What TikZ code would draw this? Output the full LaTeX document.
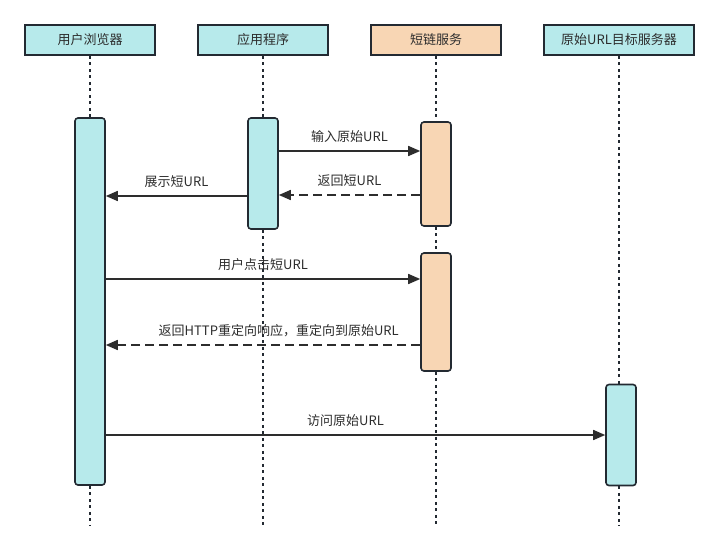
\documentclass[tikz,border=0pt]{standalone}
\usepackage{fontspec}
\setmainfont{Noto Sans CJK SC}
\usepackage{xcolor}
\usepackage{tikz}
\usetikzlibrary{arrows.meta,positioning,calc}
\definecolor{cyanfill}{RGB}{183,234,235}
\definecolor{peachfill}{RGB}{248,214,180}
\definecolor{edge}{RGB}{35,42,50}
\definecolor{ink}{RGB}{45,45,45}
\tikzset{
	actor/.style={draw=edge,line width=1.6pt,minimum width=130pt,minimum height=30pt,inner sep=0pt,font=\fontsize{13}{15}\selectfont,text=ink},
	act/.style={draw=edge,line width=1.6pt,rounded corners=3pt,minimum width=30pt,inner sep=0pt},
	life/.style={draw=edge,line width=1.8pt,dash pattern=on 3pt off 3.5pt},
	msg/.style={draw=ink,line width=1.6pt,-{Triangle[length=12pt,width=10pt]}},
	reply/.style={msg,dash pattern=on 9pt off 5pt},
	lbl/.style={font=\fontsize{13}{15}\selectfont,text=ink,above=4pt}
}

\begin{document}
\begin{tikzpicture}[x=1pt,y=-1pt]
		\useasboundingbox (0,0) rectangle (719,552);
		% actors
		\node[actor,fill=cyanfill] (browser) at (90,40) {用户浏览器};
		\node[actor,fill=cyanfill] (app) at (263,40) {应用程序};
		\node[actor,fill=peachfill] (short) at (436,40) {短链服务};
		\node[actor,fill=cyanfill,minimum width=150pt] (target) at (619,40) {原始URL目标服务器};
		% lifeline ends
		\coordinate (browserend) at (90,526);
		\coordinate (append) at (263,526);
		\coordinate (shortend) at (436,526);
		\coordinate (targetend) at (619,526);
		% activations
		\node[act,fill=cyanfill,minimum height=367pt] (browserA) at (90,301.5) {};
		\node[act,fill=cyanfill,minimum height=111pt] (appA) at (263,173.5) {};
		\node[act,fill=peachfill,minimum height=104pt] (shortA) at (436,174) {};
		\node[act,fill=peachfill,minimum height=118pt] (shortB) at (436,312) {};
		\node[act,fill=cyanfill,minimum height=101pt] (targetA) at (621,435) {};
		% lifelines
		\draw[life] (browser.south) -- (browserA.north);
		\draw[life] (browserA.south) -- (browserend);
		\draw[life] (app.south) -- (appA.north);
		\draw[life] (appA.south) -- (append);
		\draw[life] (short.south) -- (shortA.north);
		\draw[life] (shortA.south) -- (shortB.north);
		\draw[life] (shortB.south) -- (shortend);
		\draw[life] (target.south) -- (target.south|-targetA.north);
		\draw[life] (target.south|-targetA.south) -- (targetend);
		% messages
		\draw[msg] (appA.east|-0,151) -- node[lbl]{输入原始URL} (shortA.west|-0,151);
		\draw[reply] (shortA.west|-0,195) -- node[lbl]{返回短URL} (appA.east|-0,195);
		\draw[msg] (appA.west|-0,196) -- node[lbl]{展示短URL} (browserA.east|-0,196);
		\draw[msg] (browserA.east|-0,279) -- node[lbl]{用户点击短URL} (shortB.west|-0,279);
		\draw[reply] (shortB.west|-0,345) -- node[lbl,pos=0.45]{返回HTTP重定向响应，重定向到原始URL} (browserA.east|-0,345);
		\draw[msg] (browserA.east|-0,435) -- node[lbl,pos=0.48]{访问原始URL} (targetA.west|-0,435);
		\end{tikzpicture}
\end{document}
